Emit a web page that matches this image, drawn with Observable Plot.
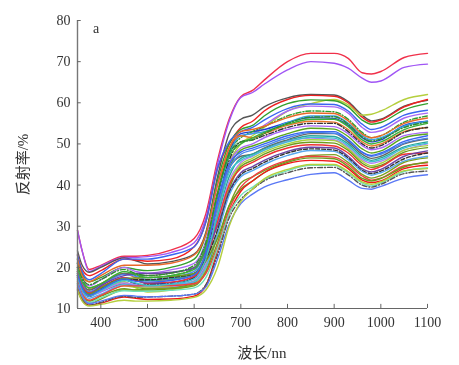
<!DOCTYPE html>
<html><head><meta charset="utf-8">
<script src="https://cdn.jsdelivr.net/npm/d3@7"></script>
<script src="https://cdn.jsdelivr.net/npm/@observablehq/plot@0.6"></script>
<style>html,body{margin:0;padding:0;background:#fff}svg{display:block;filter:blur(.45px)}</style>
</head><body><div id="chart"></div>
<script>
const wavelengths=[350,360,375,400,450,475,500,550,600,625,650,675,700,725,750,800,850,900,930,960,980,1000,1050,1100];
const xTicks=[400,500,600,700,800,900,1000,1100];
const yTicks=[10,20,30,40,50,60,70,80];
const xTitle="波长/nn", yTitle="反射率/%", panel="a";
const s01=[29,24,19.5,20.5,22.7,22.7,22.9,24.2,27,33,46,56,61.5,63,65.5,70,72,72,70.8,67.3,67,67.6,71,72];
const s02=[29,24,19,20.3,22.4,22.4,22.6,23.6,26,32,45,55.5,61.3,62.5,64.5,68,70,69.6,68.4,66,65,65.3,68.6,69.4];
const s03=[24,20.5,18.8,20,22.3,21.6,20.8,21.4,23.2,28.5,42,52.5,56,57,59,61.2,62,61.9,60.3,57,55.6,56,59.2,60.6];
const s04=[23,19.5,18,19.2,22,21.8,21.5,22,25,31,44,50,54,55.5,58,60.8,61.8,61.6,60,56.5,55.3,55.8,59,60.8];
const s05=[22,18,15,15,16.5,15,14,14.5,16,20,32,45,50,52,54,58,59.8,60.8,59.5,57,57.2,58,60.8,62];
const s06=[22,18.5,16.5,17.5,20,19.5,19.2,20,22,28,41,50,53.5,54.5,56.8,59.8,60.7,60.5,59,55.8,54.8,55.2,58.3,59.8];
const s07=[23,19,17,18.5,22,22,22,23,25,31,44,50.5,53,54,55.8,58.6,59.7,59.6,58,54.8,53.5,54,57,58.2];
const s08=[21,17.5,15.5,17,20,19,18.6,19.4,21,26.5,40,48,52,52.5,54.5,58,59.2,59,57.5,54,52.8,53.2,56.3,57.5];
const s09=[20,16,14,15,17.5,17,16,16.3,17.8,23,37,48,52.5,53,53.5,55.2,56.4,56.2,54.5,51.5,50.5,51,54.5,55.5];
const s10=[21,17,15,16,18.5,18,17.5,18,19.8,25,38,48,51.5,53,54.2,56.8,58,57.8,56,52.8,51.5,52,55.3,56.8];
const s11=[19,15.5,13.5,14.5,17,16,15.5,15.8,17.2,22,35,47,52,52.5,53,55.2,56.8,56.8,55,52,51,51.5,54.3,55.5];
const s12=[20,16,14.5,16,18.5,17.5,16.8,17,18.5,24,38,49,52,51.5,52.5,54.5,55.5,55.3,53.5,50.5,49.5,50,53,54];
const s13=[18.5,15,13.5,14.5,17,16,15.8,16,17.5,22.5,35,46,50.5,51,52,54,55,55,53,50,49,49.6,52.8,54];
const s14=[18,14.5,13,14,16,15.5,15,15.2,16.5,21,34,45,49,50,51.5,53.5,54.4,54.2,52.5,49.6,48.6,49,52,52.8];
const s15=[19.5,15.5,13.5,14.3,16,15.2,14.8,15,16.3,21.5,33,44,48.5,49.5,50.5,52.5,53.8,53.6,51.8,48.8,47.8,48.3,51.5,52.4];
const s16=[19,16,14.5,15.8,18.5,18.2,18,18.6,20,25,35,44,47,47.5,49,51,52.5,52.5,50.5,47.5,46.5,47,50,51.2];
const s17=[20,16,14,15.5,18.3,17.8,17,17.5,19,24.5,35,44,47.5,48.5,49.5,51.5,52.8,52.6,51,48,47,47.5,50.2,51.4];
const s18=[18,14.5,13,14.5,17,16.8,16.8,17.2,18.5,23,32,42,46.5,47.5,48.8,50.8,52,51.8,50,47,46,46.6,49.3,50.5];
const s19=[18,14.5,13,14.2,16.2,15.8,15,15.3,16.8,21,31,41,45.5,47,48.5,50.6,51.4,51,49.2,46.2,45.3,45.8,48.5,50];
const s20=[17,13.5,12,13.2,15.5,15.2,15.2,15.5,16.6,20,29,40,45,46.5,48,50,51,50.8,48.8,45.8,44.7,45.3,48.5,49.6];
const s21=[16,13,11.8,13,14.8,14.5,14.5,14.8,15.5,19,28,39,44.5,46,47.5,49.6,50.4,50.2,48.4,45.3,44.3,44.8,48,49.1];
const s22=[19,15.5,13.8,15.2,17.5,16.8,16.2,16.4,17.8,22,31,40,44,45.5,47,49,49.8,49.5,47.8,44.8,43.8,44.5,47.5,47.8];
const s23=[18,15,13.5,15.5,18,18.5,18.5,18.8,19.8,24,30,38.5,43,44.5,46,48.2,49.2,49,47,44,43.2,43.8,47,48.3];
const s24=[17.5,14.5,13,14.8,17.2,17,17,17.5,18.5,22,29,38,42.5,44,45.5,47.8,48.8,48.5,46.6,43.6,42.8,43.4,46.4,47.8];
const s25=[17.5,14,12.5,13.5,15.8,15.6,15.5,15.8,16.5,20,28,37.5,42,43.5,45,47.2,48.4,48.2,46.2,43.3,42.4,43,45.8,47];
const s26=[15.5,12.5,11.2,12.3,14.5,14.5,14.8,15,15.8,19,26,35,40.5,42,43.5,45.8,47.2,47.4,45.5,42.6,41.7,42.3,45.5,46.6];
const s27=[16.5,13.5,12,13.2,15.5,15.5,15.6,15.6,16,18.5,25,34,39.5,42,43.8,46,47,46.8,45,42.2,41.2,41.7,44.7,45.4];
const s28=[18,15,13.5,15,17.3,17.4,17.5,17.8,18.5,21.5,27,35,39,41,43,45.5,46.6,46.4,44.5,41.6,41,41.6,44.4,45.6];
const s29=[15,12,10.8,11.3,12.8,12.5,12.2,12.3,13,15.5,24,33,38.5,41,43,45.2,46,45.8,44,41.2,40.6,41,44,44.8];
const s30=[16,13,11.4,12.6,14.3,14.2,14.2,14.4,15,17.5,24.5,33,37.5,39.5,41.3,43.5,44.8,44.8,43,40.5,39.8,40.5,43.3,44.2];
const s31=[14.5,12,10.8,11.5,13,12.7,12.8,13,13.5,15.8,23,32,36.5,39,41,43,44.2,44.3,42.5,40,39.5,40.2,42.8,43.4];
const s32=[16,13,11.2,11.8,13.2,13,12.8,13,13.5,15.2,22,30.5,35.5,37.8,39.5,41.3,42.6,43,41.2,39.2,39,39.7,41.7,42.5];
const s33=[14.5,11.8,10.6,11,12,11.8,11.8,12,12.7,14.5,20,30,36,39,41.5,43.8,45,45,43.3,40.8,40.2,40.8,43.5,44];
const s34=[18,14.6,13,14.3,16.8,16.2,15.6,15.9,17.2,22,33,43,46,47.2,48.5,50.5,51.6,51.4,49.6,46.6,45.7,46.2,49,50.2];
const s35=[20,16.5,15,16,19,18.3,17.5,18,19.5,25,38,47,50,51.5,52.8,54.8,56,56,54.2,51,50,50.5,53.5,55];
const s36=[21,17.5,15.8,17,19.5,18.5,18,18.6,20.5,26,38,47.5,50.5,51,52.5,55,56.5,56.6,54.8,51.7,50.7,51.2,54,55.3];
const s37=[18.5,15,13.2,14.6,17.2,16.6,16.4,16.8,18.2,23.5,36,45,48,49,50,52,53,53,51,48,47.2,47.8,50.6,52];
const s38=[22,18,16.5,18,20.5,20.5,20.5,21,23,28,40,49,53,53.5,54.3,56.4,57.5,57.4,55.6,52.4,51.5,52,55,56.3];
const series=[s01,s02,s03,s04,s05,s06,s07,s08,s09,s10,s11,s12,s13,s14,s15,s16,s17,s18,s19,s20,s21,s22,s23,s24,s25,s26,s27,s28,s29,s30,s31,s32,s33,s34,s35,s36,s37,s38];
const colors=["#f0304a","#a055f5","#555555","#ee2222","#b5cf3e","#33a02c","#3a66f0","#a868f5","#1f3fd8","#2e9e2e","#3aa0e0","#e8742a","#333333","#a868f5","#5aa51e","#666666","#4a86ee","#2aa59a","#b080f5","#a6d23c","#6f9a1c","#ee3333","#6a45a8","#333333","#5aa8ee","#7aa020","#f04040","#6f9a1c","#f01818","#70e0b8","#555555","#5a78f5","#b5cf3e","#40c0d0","#3ab03a","#2e8e2e","#3a66f0","#e8682a"];
const dashes=[null,null,null,null,null,null,null,null,null,"5 2 1 2",null,null,"5 2 1 2",null,null,null,null,null,null,null,null,null,null,"4 2",null,null,null,null,null,null,"5 2 1 2",null,null,null,null,"5 2 1 2",null,null];

const font='"Liberation Serif","Noto Sans CJK SC",serif';
const lines=series.map((s,i)=>Plot.line(wavelengths.map((w,j)=>({w,v:s[j]})),{x:"w",y:"v",stroke:colors[i],strokeWidth:1.4,strokeDasharray:dashes[i],curve:"monotone-x"}));
const plot=Plot.plot({
  width:459,height:365,marginLeft:77,marginRight:32,marginTop:20,marginBottom:57,
  style:{fontFamily:font,background:"#fff",overflow:"visible"},
  x:{domain:[350,1100]},y:{domain:[10,80]},
  marks:[
    ...lines,
    Plot.ruleX([350],{stroke:"#777",strokeWidth:1.4}),
    Plot.ruleY([10],{stroke:"#666",strokeWidth:1.1}),
    Plot.ruleX(xTicks,{x:d=>d,y1:10,y2:11,stroke:"#666",strokeWidth:1}),
    Plot.ruleY(yTicks,{y:d=>d,x1:350,x2:358,stroke:"#666",strokeWidth:1}),
    Plot.axisX(xTicks,{anchor:"bottom",tickSize:0,tickPadding:9,fontSize:14,label:null,tickFormat:d=>String(d),fill:"#333"}),
    Plot.axisY(yTicks,{anchor:"left",tickSize:0,tickPadding:7,fontSize:14,label:null,tickFormat:d=>String(d),fill:"#333"}),
    Plot.text([panel],{x:()=>390,y:()=>78,text:d=>d,fontSize:14,fill:"#333"}),
    Plot.text([xTitle],{x:()=>745,y:()=>10,dy:45,text:d=>d,fontSize:15,fill:"#333"}),
    Plot.text([yTitle],{x:()=>350,y:()=>45,dx:-54,rotate:-90,text:d=>d,fontSize:15,fill:"#333"})
  ]
});
document.getElementById("chart").append(plot);
</script></body></html>
